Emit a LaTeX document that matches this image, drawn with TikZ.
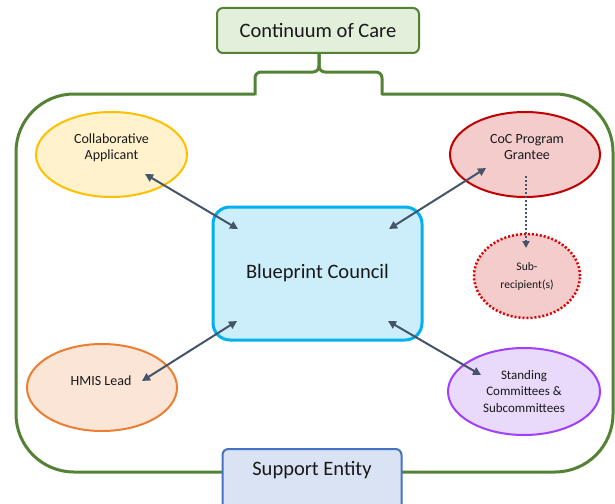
\documentclass[tikz,border=0pt]{standalone}
\usepackage{fontspec}
\setmainfont{Carlito}
\usetikzlibrary{arrows.meta,shapes.geometric}
\definecolor{cgreen}{HTML}{548235}
\definecolor{cgreenfill}{HTML}{E2EFDA}
\definecolor{cblue}{HTML}{00B0F0}
\definecolor{cbluefill}{HTML}{CCEEFB}
\definecolor{sblue}{HTML}{4472C4}
\definecolor{sbluefill}{HTML}{DAE3F3}
\definecolor{cyel}{HTML}{FFC000}
\definecolor{cyelfill}{HTML}{FFF2CC}
\definecolor{cred}{HTML}{C00000}
\definecolor{credfill}{HTML}{F4CCCC}
\definecolor{cdred}{HTML}{E00000}
\definecolor{corange}{HTML}{ED7D31}
\definecolor{corangefill}{HTML}{FBE5D6}
\definecolor{cpurple}{HTML}{A040FF}
\definecolor{cpurplefill}{HTML}{E9D9FB}
\definecolor{carrow}{HTML}{44546A}
\tikzset{
  topbox/.style={draw=cgreen, fill=cgreenfill, line width=2pt, rounded corners=6pt, minimum width=202pt, minimum height=45pt, font=\fontsize{20.5}{24}\selectfont, text=black!90},
  entbox/.style={draw=sblue, fill=sbluefill, line width=2pt, rounded corners=6pt, minimum width=179pt, minimum height=64pt, font=\fontsize{20.5}{24}\selectfont, text=black!90},
  council/.style={draw=cblue, fill=cbluefill, line width=3pt, rounded corners=17pt, minimum width=209pt, minimum height=133pt, font=\fontsize{20.5}{24}\selectfont, text=black!90},
  oval/.style={ellipse, line width=2pt, inner sep=0pt, align=center, text=black!90, font=\fontsize{14}{16.5}\selectfont},
  link/.style={draw=carrow, line width=2pt, {Triangle[length=8pt,width=8pt]}-{Triangle[length=8pt,width=8pt]}},
  sublink/.style={draw=carrow, line width=2pt, dotted, -{Triangle[length=7pt,width=7pt]}},
}
\begin{document}
\begin{tikzpicture}[x=1pt,y=-1pt]
\useasboundingbox (0,0) rectangle (615,503);
% outer container
\draw[cgreen, line width=3pt, rounded corners=58pt] (255,94) -- (16,94) -- (16,472) -- (613,472) -- (613,94) -- (382,94);
% brace
\draw[cgreen, line width=3pt, rounded corners=6pt] (255,95) -- (255,72) -- (319,72) -- (319,53);
\draw[cgreen, line width=3pt, rounded corners=6pt] (382,95) -- (382,72) -- (319,72) -- (319,53);
% nodes
\node[topbox] (coc) at (318,30.5) {Continuum of Care};
\node[entbox] (se) at (312,481) {};
\node[font=\fontsize{20.5}{24}\selectfont, text=black!90] (setext) at (312,470) {Support Entity};
\node[council] (bc) at (317.5,273.5) {Blueprint Council};
\node[oval, draw=cyel, fill=cyelfill, minimum width=151pt, minimum height=85pt] (ca) at (111.5,154.5) {};
\node[oval] (catext) at (111.5,148) {Collaborative\\Applicant};
\node[oval, draw=cred, fill=credfill, minimum width=150pt, minimum height=85pt] (grant) at (525,154.5) {};
\node[oval] (granttext) at (527,147) {CoC Program\\Grantee};
\node[oval, draw=cdred, fill=credfill, dotted, line width=2.5pt, minimum width=106pt, minimum height=84pt, font=\fontsize{11.6}{18}\selectfont] (sub) at (527,276) {Sub-\\recipient(s)};
\node[oval, draw=corange, fill=corangefill, minimum width=150pt, minimum height=87pt] (hmis) at (102,387.5) {};
\node[oval] (hmistext) at (101,381) {HMIS Lead};
\node[oval, draw=cpurple, fill=cpurplefill, minimum width=152pt, minimum height=87pt, font=\fontsize{13}{16.5}\selectfont] (stand) at (524,391.5) {Standing\\Committees \&\\Subcommittees};
% arrow end points
\coordinate (caA) at (145,174);
\coordinate (bcA) at (238,229);
\coordinate (grA) at (486,168);
\coordinate (bcB) at (389,229);
\coordinate (hmA) at (142,381);
\coordinate (bcC) at (237,321);
\coordinate (stA) at (481,375);
\coordinate (bcD) at (388,321);
\coordinate (grB) at (526,176);
\coordinate (suA) at (526,248);
% connectors
\draw[link] (caA) -- (bcA);
\draw[link] (grA) -- (bcB);
\draw[link] (hmA) -- (bcC);
\draw[link] (stA) -- (bcD);
\draw[sublink] (grB) -- (suA);
\end{tikzpicture}
\end{document}
